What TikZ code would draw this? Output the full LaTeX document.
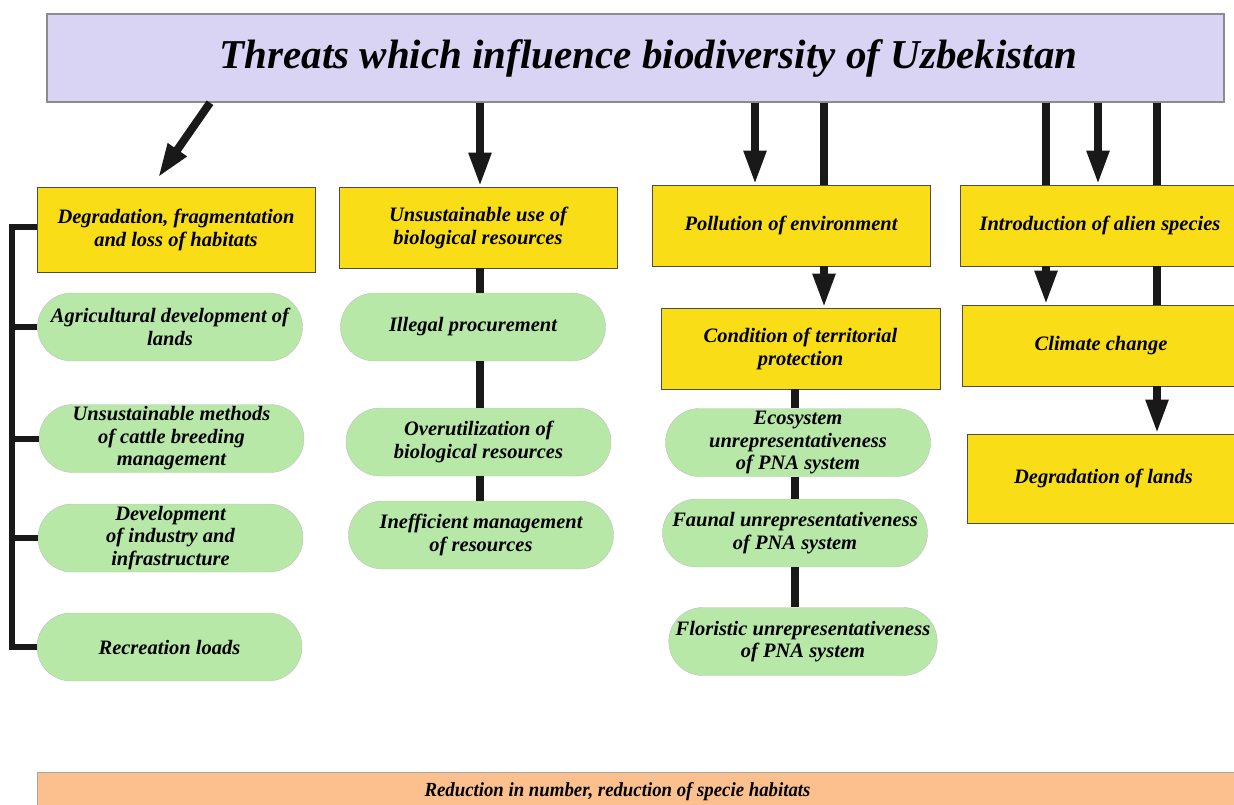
\documentclass[tikz,border=0pt]{standalone}
\usepackage{fontspec}
\setmainfont{Liberation Serif}
\newfontfamily\narrowserif[FakeStretch=0.94]{Liberation Serif}
\usepackage{tikz}
\usetikzlibrary{arrows.meta,shapes.misc}
\definecolor{title_lilac}{RGB}{217,212,243}
\definecolor{threat_yellow}{RGB}{249,221,22}
\definecolor{leaf_green}{RGB}{184,232,168}
\definecolor{result_peach}{RGB}{251,192,142}

\tikzset{
  threatbox/.style={draw=black!70, fill=threat_yellow, line width=0.8pt, align=center,
                    font=\fontsize{20.5}{23}\selectfont\bfseries\itshape},
  leaf/.style={rounded rectangle, draw=black!25, fill=leaf_green, inner sep=0pt,
               minimum width=265pt, minimum height=68pt, align=center,
               font=\fontsize{20.5}{22.5}\selectfont\bfseries\itshape},
  bigarrow/.style={line width=8pt, black!90, -{Triangle[width=21pt,length=34pt]}},
  link/.style={line width=8pt, black!90}
}

\begin{document}
\begin{tikzpicture}[x=1pt,y=-1pt]
  \useasboundingbox (0,0) rectangle (1234,805);

  % title
  \node[draw=black!45, fill=title_lilac, line width=1.5pt, minimum width=1177pt, minimum height=88pt,
        font=\fontsize{41}{44}\selectfont\bfseries\itshape] (title) at (635.5,58)
        {\hspace*{26pt}Threats which influence biodiversity of Uzbekistan};

  % main threats
  \node[threatbox, minimum width=278pt, minimum height=85pt] (deg) at (176,229.5)
        {Degradation, fragmentation\\and loss of habitats};
  \node[threatbox, minimum width=278pt, minimum height=81pt] (unsus) at (478,227.5)
        {Unsustainable use of\\biological resources};
  \node[threatbox, minimum width=278pt, minimum height=81pt] (poll) at (791,225.5)
        {Pollution of environment};
  \node[threatbox, minimum width=280pt, minimum height=81pt] (intro) at (1100,225.5)
        {Introduction of alien species};
  \node[threatbox, minimum width=279pt, minimum height=81pt] (cond) at (800.5,348.5)
        {Condition of territorial\\protection};
  \node[threatbox, minimum width=278pt, minimum height=81pt] (climate) at (1101,345.5)
        {Climate change};
  \node[threatbox, minimum width=273pt, minimum height=89pt] (deglands) at (1103.5,478.5)
        {Degradation of lands};

  % column 1
  \node[leaf] (agri) at (170,327) {Agricultural development of\\lands};
  \node[leaf] (cattle) at (171.5,438.5) {Unsustainable methods\\of cattle breeding\\management};
  \node[leaf] (industry) at (170.5,538) {Development\\of industry and\\infrastructure};
  \node[leaf] (recreation) at (169.5,647) {Recreation loads};

  % column 2
  \node[leaf] (illegal) at (473,327) {Illegal procurement};
  \node[leaf] (overutil) at (478.5,442) {Overutilization of\\biological resources};
  \node[leaf] (ineff) at (481,535) {Inefficient management\\of resources};

  % column 3
  \node[leaf] (eco) at (798,442.5) {Ecosystem\\unrepresentativeness\\of PNA system};
  \node[leaf] (faunal) at (795,533) {Faunal unrepresentativeness\\of PNA system};
  \node[leaf] (floristic) at (803,641.5) {Floristic unrepresentativeness\\of PNA system};

  % result
  \node[draw=black!35, fill=result_peach, minimum width=1203pt, minimum height=40pt,
        font=\narrowserif\fontsize{20}{22}\selectfont\bfseries\itshape] (result) at (638.5,792)
        {\hspace*{-42pt}Reduction in number, reduction of specie habitats};

  % arrows from the title
  \draw[bigarrow] ([xshift=-425.5pt]title.south) -- ([shift={(-18,-9)}]deg.north);
  \draw[bigarrow] ([xshift=-155.5pt]title.south) -- ([xshift=-155.5pt]title.south |- unsus.north);
  \draw[bigarrow] ([xshift=119.5pt]title.south) -- ([xshift=119.5pt]title.south |- poll.north);
  \draw[link] ([xshift=188.5pt]title.south) -- ([xshift=188.5pt]title.south |- poll.north);
  \draw[link] ([xshift=410.5pt]title.south) -- ([xshift=410.5pt]title.south |- intro.north);
  \draw[bigarrow] ([xshift=462.5pt]title.south) -- ([xshift=462.5pt]title.south |- intro.north);
  \draw[link] ([xshift=521.5pt]title.south) -- ([xshift=521.5pt]title.south |- intro.north);

  % column 1 bracket
  \coordinate (spine) at (12,227);
  \draw[link, line width=6pt] (deg.west |- spine) -- (spine) |- (recreation.west);
  \foreach \n in {agri,cattle,industry}
    \draw[link, line width=6pt] (\n.west) -- (\n.west -| spine);

  % column 2
  \draw[link] ([xshift=2pt]unsus.south) -- ([xshift=2pt]unsus.south |- illegal.north);
  \draw[link] ([xshift=2pt]unsus.south |- illegal.south) -- ([xshift=2pt]unsus.south |- overutil.north);
  \draw[link] ([xshift=2pt]unsus.south |- overutil.south) -- ([xshift=2pt]unsus.south |- ineff.north);

  % column 3
  \draw[bigarrow] ([xshift=33pt]poll.south) -- ([xshift=33pt]poll.south |- cond.north);
  \draw[link] ([xshift=-5.5pt]cond.south) -- ([xshift=-5.5pt]cond.south |- eco.north);
  \draw[link] ([xshift=-5.5pt]cond.south |- eco.south) -- ([xshift=-5.5pt]cond.south |- faunal.north);
  \draw[link] ([xshift=-5.5pt]cond.south |- faunal.south) -- ([xshift=-5.5pt]cond.south |- floristic.north);

  % column 4
  \draw[bigarrow] ([xshift=-54pt]intro.south) -- ([xshift=-54pt]intro.south |- climate.north);
  \draw[link] ([xshift=57pt]intro.south) -- ([xshift=57pt]intro.south |- climate.north);
  \draw[bigarrow] ([xshift=56pt]climate.south) -- ([xshift=56pt]climate.south |- deglands.north);
\end{tikzpicture}
\end{document}
